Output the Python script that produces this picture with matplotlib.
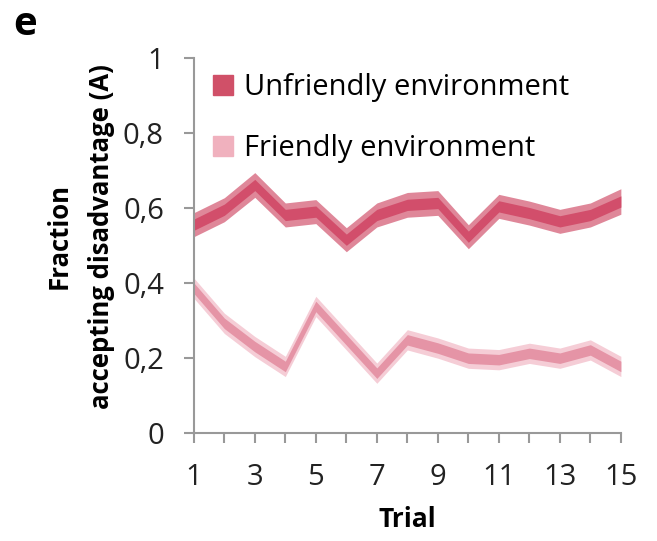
import matplotlib.pyplot as plt
from matplotlib.patches import Patch

trials = list(range(1, 16))
unfriendly = [0.555, 0.595, 0.661, 0.581, 0.59, 0.515, 0.581, 0.608, 0.613, 0.523, 0.604, 0.586, 0.564, 0.581, 0.617]
unfriendly_outer = [0.032, 0.032, 0.033, 0.032, 0.032, 0.032, 0.032, 0.033, 0.033, 0.032, 0.032, 0.032, 0.032, 0.032, 0.034]
unfriendly_inner = [0.015] * 15
friendly = [0.386, 0.292, 0.23, 0.177, 0.337, 0.248, 0.159, 0.248, 0.226, 0.199, 0.195, 0.212, 0.199, 0.221, 0.177]
friendly_outer = [0.027] * 15
friendly_inner = [0.014] * 15

yticks = [0, 0.2, 0.4, 0.6, 0.8, 1]
ytick_labels = ["0", "0,2", "0,4", "0,6", "0,8", "1"]
xtick_labels = [1, 3, 5, 7, 9, 11, 13, 15]

plt.rcParams['font.family'] = ['Open Sans', 'DejaVu Sans']

fig = plt.figure(figsize=(6.57, 5.41), dpi=100)
ax = fig.add_axes([0.295, 0.2, 0.65, 0.693])

def band(mean, half, color):
    lo = [m - h for m, h in zip(mean, half)]
    hi = [m + h for m, h in zip(mean, half)]
    ax.fill_between(trials, lo, hi, color=color, lw=0)

band(unfriendly, unfriendly_outer, "#df8799")
band(unfriendly, unfriendly_inner, "#d24e6b")
band(friendly, friendly_outer, "#f5cdd6")
band(friendly, friendly_inner, "#e594a6")

ax.set_xlim(1, 15)
ax.set_ylim(0, 1)
ax.set_yticks(yticks)
ax.set_yticklabels(ytick_labels)
ax.set_xticks(xtick_labels)
ax.set_xticklabels([str(v) for v in xtick_labels])
ax.set_xticks(trials, minor=True)
for s in ["top", "right"]:
    ax.spines[s].set_visible(False)
for s in ["left", "bottom"]:
    ax.spines[s].set_color("#999999")
    ax.spines[s].set_linewidth(1.5)
ax.tick_params(axis="both", which="both", color="#999999", width=1.5, length=7.5,
               labelsize=21, labelcolor="#222222", pad=14)

ax.set_xlabel("Trial", fontsize=19, fontweight="bold", labelpad=10)
fig.text(0.122, 0.563, "Fraction\naccepting disadvantage (A)", rotation=90,
         fontsize=18.5, fontweight="bold", ha="center", va="center", linespacing=1.75)
fig.text(0.02, 0.954, "e", fontsize=29, fontweight="bold", ha="left", va="center")

handles = [Patch(color="#d05068", label="Unfriendly environment"),
           Patch(color="#f0b1be", label="Friendly environment")]
ax.legend(handles=handles, loc="upper left", bbox_to_anchor=(0.044, 0.96), frameon=False,
          fontsize=21, handlelength=0.69, handleheight=0.69, handletextpad=0.4,
          labelspacing=1.1, borderaxespad=0, borderpad=0)

fig.savefig("out.png", dpi=100)
